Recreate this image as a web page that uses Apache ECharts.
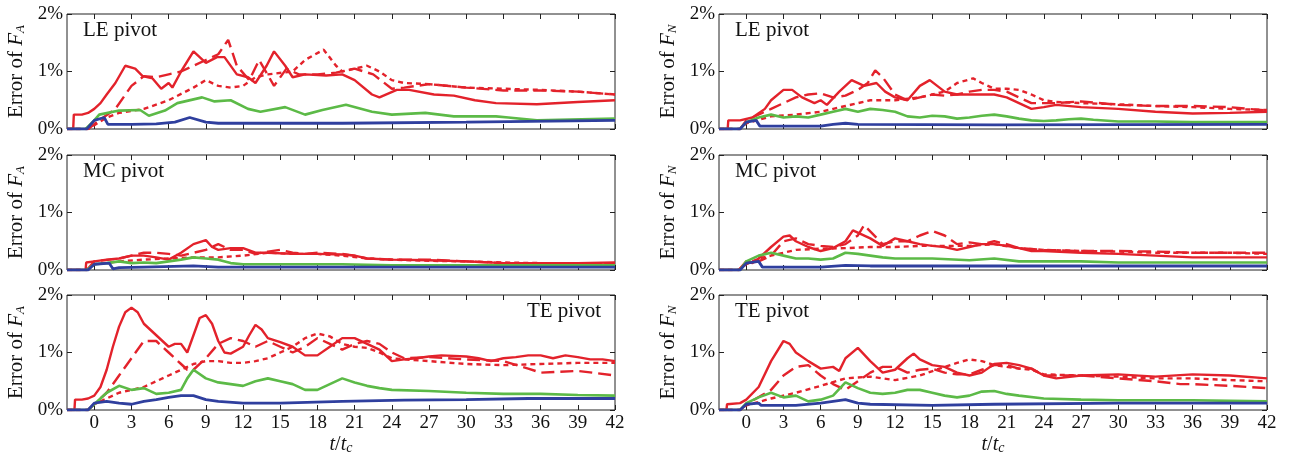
<!DOCTYPE html>
<html><head><meta charset="utf-8">
<script src="https://cdn.jsdelivr.net/npm/echarts@6/dist/echarts.min.js"></script>
<style>html,body{margin:0;padding:0;background:#fff}#c{width:1290px;height:458px}</style>
</head><body><div id="c"></div>
<script>
// ---- data: [t/tc, error %] ----
const X_TICKS = [0,3,6,9,12,15,18,21,24,27,30,33,36,39,42];
const Y_TICKS = [0,1,2];
const PANEL_LABELS = ['LE pivot','LE pivot','MC pivot','MC pivot','TE pivot','TE pivot'];
const Y_NAMES = ['A','N','A','N','A','N'];

// LE pivot, F_A
const le_fa_solid = [[-2.2,0],[-1.7,0],[-1.65,0.25],[-1,0.25],[-0.5,0.28],[0,0.35],[0.5,0.45],[1,0.6],[1.7,0.8],[2.5,1.1],[3.3,1.05],[3.9,0.92],[4.7,0.88],[5.4,0.7],[6,0.8],[6.3,0.72],[7,1.0],[8,1.35],[9,1.15],[9.9,1.25],[10.5,1.25],[11.5,0.95],[12.4,0.9],[13,0.8],[13.9,1.1],[14.5,1.35],[15.4,1.1],[16,0.9],[17,0.95],[18.7,0.93],[20,0.95],[21,0.85],[22.4,0.6],[23,0.55],[24.4,0.68],[25.4,0.68],[27.4,0.6],[29,0.58],[30.7,0.5],[32.4,0.45],[35.7,0.43],[39,0.47],[42,0.5]];
const le_fa_dash = [[-2.2,0],[-0.5,0],[0.4,0.15],[1.7,0.35],[3,0.75],[4,0.92],[5,0.9],[6,0.95],[7,1.0],[8,1.1],[9,1.2],[10,1.3],[10.8,1.55],[11.5,1.1],[12.5,0.85],[13.3,1.2],[14.5,0.75],[15.5,1.05],[16.5,0.95],[18,0.95],[19.5,0.98],[21,1.05],[22.5,0.95],[24,0.7],[25,0.72],[27,0.78],[30,0.72],[33,0.67],[36,0.67],[39,0.65],[42,0.6]];
const le_fa_dot = [[-2.2,0],[-0.5,0],[1,0.2],[2,0.28],[4,0.35],[6,0.5],[8,0.72],[9,0.85],[10,0.75],[11,0.72],[12,0.75],[13,0.9],[14,0.95],[16,1.0],[17,1.2],[18.5,1.38],[19.5,1.1],[20,1.0],[21,1.05],[22,1.1],[23,1.0],[24,0.85],[25,0.8],[27,0.78],[30,0.72],[33,0.7],[36,0.68],[39,0.65],[42,0.6]];
const le_fa_green = [[-2.2,0],[-0.7,0],[0,0.15],[0.4,0.25],[2,0.32],[3.7,0.33],[4.4,0.23],[5.7,0.32],[6.7,0.45],[8.7,0.55],[9.7,0.48],[11,0.5],[12.4,0.35],[13.4,0.3],[15.4,0.38],[17,0.25],[18.4,0.33],[20.3,0.42],[22.4,0.3],[24,0.25],[26.7,0.28],[29,0.22],[32.4,0.22],[33.4,0.2],[35.7,0.15],[42,0.18]];
const le_fa_blue = [[-2.2,0],[-0.6,0],[0,0.15],[0.8,0.2],[1.1,0.08],[3,0.08],[5,0.09],[6.5,0.12],[7.7,0.2],[9,0.12],[10,0.1],[20,0.1],[30,0.12],[42,0.15]];

// LE pivot, F_N
const le_fn_solid = [[-2.2,0],[-1.5,0],[-1.45,0.15],[-0.5,0.15],[0.5,0.2],[1.5,0.35],[2,0.5],[3,0.68],[3.7,0.68],[4.5,0.55],[5.5,0.45],[6,0.5],[6.5,0.42],[7.5,0.65],[8.5,0.85],[9.5,0.75],[10.5,0.8],[11.2,0.65],[12,0.55],[13,0.5],[14,0.75],[14.8,0.85],[16,0.65],[17,0.6],[20,0.6],[21,0.55],[22,0.45],[23,0.35],[24,0.38],[25,0.42],[27,0.38],[30,0.35],[33,0.3],[36,0.27],[39,0.28],[42,0.3]];
const le_fn_dash = [[-2.2,0],[-0.5,0],[0,0.15],[2,0.35],[3,0.45],[4,0.55],[5,0.6],[6,0.62],[7,0.55],[8,0.58],[9,0.68],[9.8,0.8],[10.4,1.02],[11,0.9],[12,0.6],[13,0.5],[14,0.55],[15,0.6],[16,0.58],[17,0.6],[18,0.65],[19,0.68],[20,0.68],[21,0.65],[22,0.55],[23,0.45],[25,0.45],[27,0.48],[30,0.42],[33,0.4],[36,0.4],[39,0.38],[42,0.32]];
const le_fn_dot = [[-2.2,0],[-0.5,0],[0,0.1],[2,0.22],[4,0.25],[6,0.3],[8,0.4],[10,0.5],[12,0.5],[14,0.55],[16,0.65],[17,0.8],[18.3,0.88],[19,0.8],[20,0.7],[21,0.7],[22,0.68],[23,0.6],[24,0.5],[25,0.47],[27,0.45],[30,0.43],[33,0.4],[36,0.38],[39,0.35],[42,0.33]];
const le_fn_green = [[-2.2,0],[-0.5,0],[0,0.12],[1,0.2],[2,0.25],[3,0.2],[4,0.22],[5,0.2],[6,0.25],[7,0.3],[8,0.35],[9,0.3],[10,0.35],[11,0.33],[12,0.3],[13,0.22],[14,0.2],[15,0.23],[16,0.22],[17,0.18],[18,0.2],[19,0.23],[20,0.25],[21,0.22],[22,0.18],[23,0.15],[24,0.14],[25,0.15],[26,0.17],[27,0.18],[28,0.16],[30,0.13],[33,0.13],[36,0.12],[39,0.12],[42,0.12]];
const le_fn_blue = [[-2.2,0],[-0.5,0],[0,0.12],[0.8,0.15],[1.1,0.05],[6,0.05],[7,0.08],[8,0.1],[9,0.08],[20,0.07],[42,0.08]];

// MC pivot, F_A
const mc_fa_solid = [[-2.2,0],[-0.7,0],[-0.65,0.13],[0,0.15],[1,0.18],[2,0.2],[3,0.25],[4,0.25],[5,0.22],[6,0.18],[7,0.3],[8,0.45],[9,0.52],[9.5,0.4],[10,0.35],[11,0.38],[12,0.38],[13,0.3],[14,0.3],[16,0.28],[18,0.28],[20,0.27],[21,0.25],[22,0.2],[24,0.18],[27,0.17],[30,0.15],[33,0.12],[36,0.12],[39,0.12],[42,0.13]];
const mc_fa_dash = [[-2.2,0],[-0.6,0],[0,0.15],[2,0.2],[3,0.25],[4,0.3],[5,0.3],[6,0.28],[7,0.25],[8,0.3],[9,0.35],[10,0.45],[11,0.35],[12,0.35],[13,0.28],[14,0.32],[15,0.35],[16,0.3],[17,0.28],[18,0.3],[20,0.28],[21,0.25],[22,0.2],[24,0.18],[27,0.18],[30,0.15],[33,0.12],[36,0.12],[39,0.12],[42,0.12]];
const mc_fa_dot = [[-2.2,0],[-0.6,0],[0,0.1],[2,0.15],[4,0.18],[6,0.2],[8,0.22],[10,0.22],[12,0.25],[14,0.3],[16,0.28],[18,0.28],[20,0.25],[22,0.2],[24,0.18],[27,0.16],[30,0.15],[33,0.13],[36,0.12],[39,0.12],[42,0.12]];
const mc_fa_green = [[-2.2,0],[-0.6,0],[0,0.1],[1,0.12],[2,0.15],[3,0.12],[4,0.13],[5,0.12],[6,0.15],[7,0.18],[8,0.22],[9,0.2],[10,0.18],[11,0.12],[12,0.1],[20,0.1],[24,0.08],[42,0.08]];
const mc_fa_blue = [[-2.2,0],[-0.5,0],[0,0.1],[1.2,0.12],[1.5,0.02],[2,0.04],[4,0.05],[8,0.07],[10,0.05],[42,0.05]];

// MC pivot, F_N
const mc_fn_solid = [[-2.2,0],[-0.6,0],[0,0.15],[0.5,0.12],[1,0.2],[2,0.4],[3,0.58],[3.5,0.6],[4,0.5],[5,0.4],[6,0.33],[7,0.38],[8,0.5],[8.6,0.69],[10,0.55],[11,0.42],[12,0.55],[13,0.5],[14,0.45],[15,0.42],[16,0.4],[17,0.35],[18,0.4],[19,0.45],[20,0.45],[21,0.42],[22,0.38],[23,0.33],[24,0.33],[27,0.3],[30,0.28],[33,0.25],[36,0.22],[39,0.22],[42,0.22]];
const mc_fn_dash = [[-2.2,0],[-0.6,0],[0,0.12],[1,0.15],[2,0.25],[3,0.5],[4,0.55],[5,0.45],[6,0.42],[7,0.4],[8,0.45],[9,0.6],[9.5,0.78],[11,0.45],[12,0.5],[13,0.5],[14,0.6],[15,0.68],[16,0.6],[17,0.45],[18,0.48],[19,0.45],[20,0.5],[21,0.45],[22,0.38],[24,0.35],[27,0.33],[30,0.33],[33,0.32],[36,0.3],[39,0.3],[42,0.3]];
const mc_fn_dot = [[-2.2,0],[-0.6,0],[0,0.1],[1,0.2],[2,0.25],[3,0.3],[4,0.35],[6,0.37],[8,0.38],[10,0.4],[12,0.4],[14,0.42],[16,0.42],[18,0.42],[20,0.45],[22,0.38],[24,0.35],[27,0.33],[30,0.32],[33,0.3],[36,0.3],[39,0.3],[42,0.28]];
const mc_fn_green = [[-2.2,0],[-0.5,0],[0,0.15],[1,0.25],[2,0.3],[3,0.25],[4,0.2],[5,0.2],[6,0.18],[7,0.2],[8,0.3],[9,0.28],[10,0.25],[11,0.22],[12,0.2],[15,0.2],[18,0.17],[20,0.2],[22,0.15],[24,0.15],[27,0.15],[30,0.13],[36,0.13],[42,0.13]];
const mc_fn_blue = [[-2.2,0],[-0.5,0],[0,0.12],[1,0.15],[1.3,0.05],[6,0.05],[8,0.08],[10,0.07],[42,0.07]];

// TE pivot, F_A
const te_fa_solid = [[-2.2,0],[-1.6,0],[-1.55,0.18],[-1,0.18],[-0.5,0.2],[0,0.25],[0.5,0.4],[1,0.7],[1.5,1.1],[2,1.45],[2.5,1.7],[3,1.78],[3.5,1.7],[4,1.5],[5,1.3],[6,1.1],[6.5,1.15],[7,1.15],[7.5,1.0],[8,1.3],[8.5,1.6],[9,1.65],[9.5,1.5],[10,1.2],[10.5,1.0],[11,0.98],[12,1.1],[12.5,1.3],[13,1.48],[13.5,1.4],[14,1.25],[15,1.18],[16,1.1],[17,0.95],[18,0.95],[19,1.1],[20,1.25],[21,1.25],[22,1.15],[23,1.05],[24,0.85],[25,0.88],[26,0.9],[27,0.93],[28,0.95],[30,0.93],[31,0.9],[32,0.85],[33,0.9],[34,0.92],[35,0.95],[36,0.95],[37,0.9],[38,0.95],[39,0.92],[40,0.88],[41,0.88],[42,0.85]];
const te_fa_dash = [[-2.2,0],[-0.5,0],[0,0.1],[1,0.3],[2,0.6],[3,0.9],[4,1.2],[5,1.2],[6,1.0],[7,0.8],[7.5,0.7],[8,0.7],[9,0.9],[10,1.15],[11,1.25],[12,1.2],[13,1.1],[14,1.2],[15,1.1],[16,1.0],[17,1.1],[18,1.25],[19,1.15],[20,1.05],[21,1.15],[22,1.2],[23,1.15],[24,1.0],[25,0.9],[27,0.92],[30,0.88],[33,0.85],[35,0.72],[36,0.65],[39,0.68],[42,0.6]];
const te_fa_dot = [[-2.2,0],[-0.5,0],[0,0.1],[1,0.2],[2,0.3],[3,0.35],[4,0.4],[5,0.5],[6,0.6],[7,0.7],[8,0.8],[9,0.85],[10,0.85],[11,0.82],[12,0.82],[13,0.85],[14,0.9],[15,1.0],[16,1.1],[17,1.25],[18,1.33],[19,1.28],[20,1.15],[21,1.1],[22,1.08],[23,1.0],[24,0.9],[25,0.88],[27,0.85],[30,0.8],[33,0.78],[36,0.8],[39,0.82],[42,0.82]];
const te_fa_green = [[-2.2,0],[-0.5,0],[0,0.1],[1,0.3],[2,0.42],[3,0.35],[4,0.38],[5,0.28],[6,0.3],[7,0.35],[7.5,0.55],[8,0.7],[9,0.55],[10,0.48],[11,0.45],[12,0.42],[13,0.5],[14,0.55],[15,0.5],[16,0.45],[17,0.35],[18,0.35],[19,0.45],[20,0.55],[21,0.48],[22,0.42],[23,0.38],[24,0.35],[27,0.33],[30,0.3],[33,0.28],[36,0.28],[39,0.26],[42,0.25]];
const te_fa_blue = [[-2.2,0],[-0.5,0],[0,0.12],[1,0.15],[2,0.12],[3,0.1],[4,0.15],[5,0.18],[6,0.22],[7,0.25],[8,0.25],[9,0.18],[10,0.15],[12,0.12],[15,0.12],[20,0.15],[25,0.17],[30,0.18],[35,0.2],[42,0.2]];

// TE pivot, F_N
const te_fn_solid = [[-2.2,0],[-1.6,0],[-1.55,0.1],[-0.5,0.12],[0,0.18],[1,0.4],[2,0.85],[3,1.2],[3.5,1.15],[4,1.0],[5,0.85],[6,0.72],[7,0.75],[7.5,0.68],[8,0.9],[9,1.08],[10,0.85],[11,0.65],[12,0.7],[13,0.9],[13.5,0.98],[14,0.88],[15,0.78],[16,0.75],[17,0.65],[18,0.6],[19,0.65],[20,0.8],[21,0.82],[22,0.78],[23,0.72],[24,0.6],[25,0.55],[27,0.6],[30,0.62],[33,0.58],[36,0.62],[39,0.6],[42,0.55]];
const te_fn_dash = [[-2.2,0],[-0.5,0],[0,0.1],[2,0.35],[3,0.6],[4,0.75],[5,0.78],[6,0.6],[7,0.45],[8,0.35],[9,0.5],[10,0.65],[11,0.75],[12,0.75],[13,0.65],[14,0.7],[15,0.72],[16,0.65],[17,0.62],[18,0.62],[19,0.7],[20,0.78],[21,0.78],[22,0.72],[23,0.72],[24,0.6],[27,0.6],[30,0.55],[33,0.5],[35,0.45],[36,0.45],[39,0.42],[42,0.38]];
const te_fn_dot = [[-2.2,0],[-0.5,0],[0,0.08],[2,0.2],[4,0.3],[6,0.42],[8,0.55],[10,0.58],[12,0.52],[14,0.6],[16,0.75],[17,0.82],[18,0.88],[19,0.85],[20,0.78],[21,0.75],[22,0.72],[23,0.7],[24,0.62],[27,0.6],[30,0.58],[33,0.55],[36,0.55],[39,0.52],[42,0.5]];
const te_fn_green = [[-2.2,0],[-0.5,0],[0,0.12],[1,0.22],[2,0.3],[3,0.22],[4,0.25],[5,0.15],[6,0.18],[7,0.25],[8,0.48],[9,0.38],[10,0.3],[11,0.28],[12,0.3],[13,0.35],[14,0.35],[15,0.3],[16,0.25],[17,0.22],[18,0.25],[19,0.32],[20,0.33],[21,0.28],[22,0.25],[24,0.2],[27,0.18],[30,0.17],[36,0.17],[42,0.15]];
const te_fn_blue = [[-2.2,0],[-0.5,0],[0,0.1],[1,0.12],[1.2,0.08],[2,0.08],[4,0.08],[6,0.12],[7,0.15],[8,0.18],[9,0.12],[10,0.1],[15,0.08],[20,0.1],[30,0.12],[42,0.12]];

const PANEL_DATA = [
  [le_fa_solid, le_fa_dash, le_fa_dot, le_fa_green, le_fa_blue],
  [le_fn_solid, le_fn_dash, le_fn_dot, le_fn_green, le_fn_blue],
  [mc_fa_solid, mc_fa_dash, mc_fa_dot, mc_fa_green, mc_fa_blue],
  [mc_fn_solid, mc_fn_dash, mc_fn_dot, mc_fn_green, mc_fn_blue],
  [te_fa_solid, te_fa_dash, te_fa_dot, te_fa_green, te_fa_blue],
  [te_fn_solid, te_fn_dash, te_fn_dot, te_fn_green, te_fn_blue]
];

// ---- styling / layout ----
const FONT = 'Liberation Serif';
const RED = '#e3222b', GREEN = '#5cba47', BLUE = '#2f3f9e';
const STYLES = [
  {color: RED, type: 'solid', width: 2.4},
  {color: RED, type: [13, 6], width: 2.4},
  {color: RED, type: [5, 4], width: 2.4},
  {color: GREEN, type: 'solid', width: 2.6},
  {color: BLUE, type: 'solid', width: 2.8}
];
const COL_LEFT = [67, 719], GRID_W = 548, ROW_TOP = [14, 155, 295], GRID_H = 115;

const grids = [], xAxes = [], yAxes = [], series = [], titles = [];
for (let p = 0; p < 6; p++) {
  const col = p % 2, row = Math.floor(p / 2);
  grids.push({left: COL_LEFT[col], top: ROW_TOP[row], width: GRID_W, height: GRID_H,
    show: true, borderColor: '#222', borderWidth: 1, backgroundColor: 'transparent'});
  const bottom = row === 2;
  const baseX = {type: 'value', gridIndex: p, min: -2.2, max: 42,
    axisLine: {show: false, onZero: false}, splitLine: {show: false},
    axisTick: {show: true, inside: true, length: 5, customValues: X_TICKS, lineStyle: {color: '#222'}},
    axisLabel: {show: false, customValues: X_TICKS}};
  xAxes.push(Object.assign({}, baseX, {position: 'bottom',
    axisLabel: {show: bottom, customValues: X_TICKS, fontFamily: FONT, fontSize: 19, color: '#111', margin: 4},
    name: bottom ? '{i|t}{n|/}{i|t}{s|c}' : '', nameLocation: 'middle', nameGap: 24,
    nameTextStyle: {rich: {
      i: {fontFamily: FONT, fontStyle: 'italic', fontSize: 20, color: '#111'},
      n: {fontFamily: FONT, fontSize: 20, color: '#111'},
      s: {fontFamily: FONT, fontStyle: 'italic', fontSize: 14, color: '#111', verticalAlign: 'bottom', padding: [7,0,0,0]}
    }}}));
  xAxes.push(Object.assign({}, baseX, {position: 'top'}));
  const baseY = {type: 'value', gridIndex: p, min: 0, max: 2, interval: 1,
    axisLine: {show: false, onZero: false}, splitLine: {show: false},
    axisTick: {show: true, inside: true, length: 5, lineStyle: {color: '#222'}}};
  yAxes.push(Object.assign({}, baseY, {position: 'left',
    axisLabel: {formatter: '{value}%', fontFamily: FONT, fontSize: 19, color: '#111', margin: 4},
    name: '{a|Error of }{b|F}{c|' + Y_NAMES[p] + '}', nameLocation: 'middle', nameRotate: 90, nameGap: 40,
    nameTextStyle: {rich: {
      a: {fontFamily: FONT, fontSize: 21, color: '#111'},
      b: {fontFamily: FONT, fontStyle: 'italic', fontSize: 21, color: '#111'},
      c: {fontFamily: FONT, fontStyle: 'italic', fontSize: 13, color: '#111', verticalAlign: 'bottom', padding: [7,0,0,0]}
    }}}));
  yAxes.push(Object.assign({}, baseY, {position: 'right', axisLabel: {show: false}}));
  PANEL_DATA[p].forEach((d, k) => {
    series.push({type: 'line', xAxisIndex: 2 * p, yAxisIndex: 2 * p, data: d,
      showSymbol: false, symbol: 'none', silent: true, animation: false,
      lineStyle: STYLES[k], z: 2 + k, clip: true});
  });
  const t = {text: PANEL_LABELS[p], top: ROW_TOP[row] + 6, padding: 0,
    textStyle: {fontFamily: FONT, fontSize: 21, fontWeight: 'normal', color: '#111'}};
  if (p === 4) t.right = 1290 - (COL_LEFT[col] + GRID_W) + 14;
  else t.left = COL_LEFT[col] + 16;
  titles.push(t);
}

const chart = echarts.init(document.getElementById('c'), null, {renderer: 'canvas'});
chart.setOption({animation: false, backgroundColor: '#fff', title: titles,
  grid: grids, xAxis: xAxes, yAxis: yAxes, series: series});
</script></body></html>
